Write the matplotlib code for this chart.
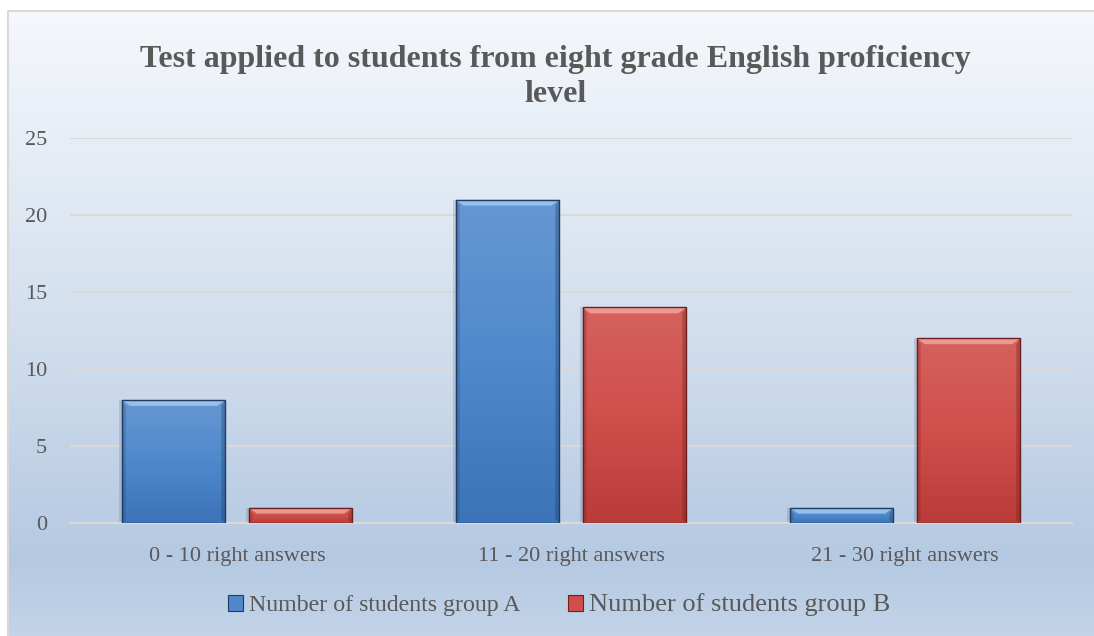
import numpy as np
import matplotlib.pyplot as plt
from matplotlib.patches import Polygon, Rectangle
from matplotlib.colors import LinearSegmentedColormap

categories = ['0 - 10 right answers', '11 - 20 right answers', '21 - 30 right answers']
group_a = [8, 21, 1]
group_b = [1, 14, 12]
series_names = ['Number of students group A', 'Number of students group B']
yticks = [0, 5, 10, 15, 20, 25]

plt.rcParams['font.family'] = ['Liberation Serif', 'DejaVu Serif']
txt = '#595959'

fig = plt.figure(figsize=(10.94, 6.36), dpi=100)

# background: white page, chart area with vertical gradient, border on top/left
bg = fig.add_axes([0, 0, 1, 1], zorder=-10)
bg.axis('off')
bg.set_xlim(0, 1)
bg.set_ylim(0, 1)
grad = np.linspace(0, 1, 256).reshape(-1, 1)
bg_cmap = LinearSegmentedColormap.from_list(
    'bg', [(0, '#c3d4e8'), (0.12, '#b5c9e2'), (0.5, '#d3dfee'), (1, '#f5f8fc')])
x0b, y1b = 7.5 / 1094, 1 - 11 / 636
bg.imshow(grad, cmap=bg_cmap, aspect='auto', origin='lower',
          extent=[x0b, 1, 0, y1b], zorder=1)
bg.plot([x0b, x0b, 1], [0, y1b, y1b], color='#d9d9d9', lw=1.5, zorder=2)

ax = fig.add_axes([70 / 1094, 0.1777, 1002 / 1094, 0.6053])
ax.patch.set_alpha(0)
ax.set_xlim(-0.5, 2.5)
ax.set_ylim(0, 25)
x = np.arange(len(categories))
w = 0.31


def bevel_bar(ax, rect, top, mid, bottom, edge, hi):
    x0, y0 = rect.get_x(), rect.get_y()
    bw, bh = rect.get_width(), rect.get_height()
    cmap = LinearSegmentedColormap.from_list('b', [bottom, mid, top])
    im = ax.imshow(np.linspace(0, 1, 64).reshape(-1, 1), cmap=cmap, origin='lower',
                   aspect='auto', extent=[x0, x0 + bw, y0, y0 + bh], zorder=3)
    im.set_clip_path(rect)
    px_x = 3.0 / 1002
    px_y = 25.0 / 385
    dx = 8 * px_x
    dy = min(6 * px_y, bh / 2)
    # shadow on the left
    ax.add_patch(Rectangle((x0 - 3 * px_x, y0), 3 * px_x, bh, facecolor='#1f3c62',
                           edgecolor='none', alpha=0.15, zorder=2))
    ax.add_patch(Polygon([[x0, y0 + bh], [x0 + bw, y0 + bh], [x0 + bw - dx, y0 + bh - dy],
                          [x0 + dx, y0 + bh - dy]], closed=True, facecolor=hi,
                         edgecolor='none', zorder=4, alpha=0.9))
    ax.add_patch(Polygon([[x0, y0], [x0 + dx * 0.5, y0 + dy * 0.5], [x0 + dx * 0.5, y0 + bh - dy],
                          [x0, y0 + bh]], closed=True, facecolor=edge, edgecolor='none',
                         zorder=4, alpha=0.25))
    ax.add_patch(Polygon([[x0 + bw, y0], [x0 + bw - dx * 0.5, y0 + dy * 0.5],
                          [x0 + bw - dx * 0.5, y0 + bh - dy], [x0 + bw, y0 + bh]], closed=True,
                         facecolor=edge, edgecolor='none', zorder=4, alpha=0.35))
    ax.add_patch(Rectangle((x0, y0), bw, bh, fill=False, edgecolor=edge, lw=1.0, zorder=5))


bars_a = ax.bar(x - 0.19, group_a, w, color='none', edgecolor='none', zorder=3)
bars_b = ax.bar(x + 0.19, group_b, w, color='none', edgecolor='none', zorder=3)
for r in bars_a:
    bevel_bar(ax, r, '#6797d3', '#4f89cc', '#3d73b9', '#1f3c62', '#9cc6f0')
for r in bars_b:
    bevel_bar(ax, r, '#d5625d', '#d04f4b', '#b93c39', '#6e1f1d', '#f0a09a')

ax.set_yticks(yticks)
ax.yaxis.grid(True, color='#d9d9d9', lw=1.6, zorder=0)
ax.set_axisbelow(True)
for s in ['top', 'right', 'left']:
    ax.spines[s].set_visible(False)
ax.spines['bottom'].set_color('#d9d9d9')
ax.spines['bottom'].set_linewidth(1.6)
ax.tick_params(axis='both', length=0, labelsize=16, labelcolor=txt)
ax.tick_params(axis='y', pad=16.5)
ax.tick_params(axis='x', pad=17)
ax.set_xticks(x)
ax.set_xticklabels(categories)

fig.text(0.508, 1 - 77 / 636, 'Test applied to students from eight grade English proficiency\nlevel',
         ha='center', va='center', fontsize=23, fontweight='bold', color=txt, linespacing=1.24)

# legend
h_a = Rectangle((0, 0), 1, 1, facecolor='#4f89cc', edgecolor='#1f3c62', lw=0.8)
h_b = Rectangle((0, 0), 1, 1, facecolor='#d04f4b', edgecolor='#6e1f1d', lw=0.8)
leg = fig.legend([h_a, h_b], series_names, loc='center', bbox_to_anchor=(0.511, 1 - 605 / 636),
                 ncol=2, frameon=False, fontsize=17.2, handlelength=0.63, handleheight=0.63,
                 handletextpad=0.25, columnspacing=2.0)
for t in leg.get_texts():
    t.set_color(txt)
leg.get_texts()[1].set_fontsize(19)

fig.savefig('out.png', dpi=100)
